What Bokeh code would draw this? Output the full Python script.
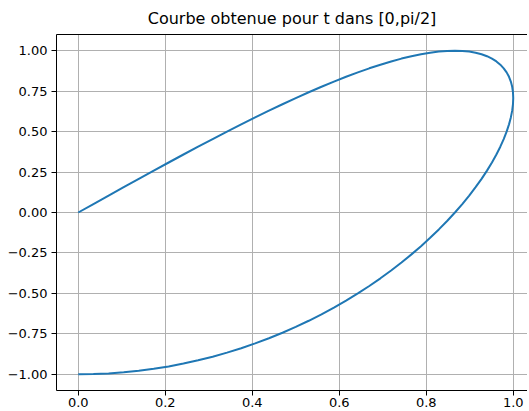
from bokeh.plotting import figure
from bokeh.models import Range1d, LinearAxis, FixedTicker, CustomJSTickFormatter
from bokeh.embed import file_html
from bokeh.resources import INLINE

title_text = "Courbe obtenue pour t dans [0,pi/2]"

# points (t from 0 to pi/2)
x_up = [0.0, 0.0349, 0.0698, 0.1045, 0.1392, 0.1736, 0.2079, 0.2419, 0.2756, 0.3090,
        0.3420, 0.3746, 0.4067, 0.4384, 0.4695, 0.5, 0.5299, 0.5592, 0.5878, 0.6157,
        0.6428, 0.6691, 0.6947, 0.7193, 0.7431, 0.7660, 0.7880, 0.8090, 0.8290, 0.8480,
        0.8660, 0.8829, 0.8988, 0.9135, 0.9272, 0.9397, 0.9511, 0.9613, 0.9703, 0.9781,
        0.9848, 0.9903, 0.9945, 0.9976, 0.9994, 1.0]
x_down = [0.9994, 0.9976, 0.9945, 0.9903, 0.9848, 0.9781, 0.9703, 0.9613, 0.9511, 0.9397,
          0.9272, 0.9135, 0.8988, 0.8829, 0.8660, 0.8480, 0.8290, 0.8090, 0.7880, 0.7660,
          0.7431, 0.7193, 0.6947, 0.6691, 0.6428, 0.6157, 0.5878, 0.5592, 0.5299, 0.5,
          0.4695, 0.4384, 0.4067, 0.3746, 0.3420, 0.3090, 0.2756, 0.2419, 0.2079, 0.1736,
          0.1392, 0.1045, 0.0698, 0.0349, 0.0]
y_rise = [0.0, 0.0523, 0.1045, 0.1564, 0.2079, 0.2588, 0.3090, 0.3584, 0.4067, 0.4540,
          0.5, 0.5446, 0.5878, 0.6293, 0.6691, 0.7071, 0.7431, 0.7771, 0.8090, 0.8387,
          0.8660, 0.8910, 0.9135, 0.9336, 0.9511, 0.9659, 0.9781, 0.9877, 0.9945, 0.9986, 1.0]
y_fall = [0.9986, 0.9945, 0.9877, 0.9781, 0.9659, 0.9511, 0.9336, 0.9135, 0.8910, 0.8660,
          0.8387, 0.8090, 0.7771, 0.7431, 0.7071, 0.6691, 0.6293, 0.5878, 0.5446, 0.5,
          0.4540, 0.4067, 0.3584, 0.3090, 0.2588, 0.2079, 0.1564, 0.1045, 0.0523, 0.0]
y_neg = [-0.0523, -0.1045, -0.1564, -0.2079, -0.2588, -0.3090, -0.3584, -0.4067, -0.4540, -0.5,
         -0.5446, -0.5878, -0.6293, -0.6691, -0.7071, -0.7431, -0.7771, -0.8090, -0.8387, -0.8660,
         -0.8910, -0.9135, -0.9336, -0.9511, -0.9659, -0.9781, -0.9877, -0.9945, -0.9986, -1.0]

xs = x_up + x_down
ys = y_rise + y_fall + y_neg

x_ticks = [0.0, 0.2, 0.4, 0.6, 0.8, 1.0]
y_ticks = [-1.0, -0.75, -0.5, -0.25, 0.0, 0.25, 0.5, 0.75, 1.0]

FONT = "DejaVu Sans"

p = figure(width=527, height=409, output_backend="svg", toolbar_location=None,
           x_range=Range1d(-0.05, 1.0328), y_range=Range1d(-1.1, 1.1),
           min_border_left=56, min_border_right=0, min_border_top=10, min_border_bottom=0)
p.outline_line_color = None

p.title.text = title_text
p.title.align = "center"
p.title.text_font = FONT
p.title.text_font_size = "16px"
p.title.text_font_style = "normal"
p.title.text_color = "black"
p.title.standoff = 13

p.line(xs, ys, line_color="#1f77b4", line_width=2)

xax = p.below[0]
yax = p.left[0]

# top spine
top = LinearAxis(ticker=FixedTicker(ticks=[]), axis_line_color="black", axis_line_width=1,
                 major_tick_out=0, major_tick_in=0, minor_tick_out=0, minor_tick_in=0,
                 major_label_text_font_size="0px", major_label_standoff=0)
p.add_layout(top, "above")

xax.ticker = FixedTicker(ticks=x_ticks)
yax.ticker = FixedTicker(ticks=y_ticks)
xax.formatter = CustomJSTickFormatter(code="return tick.toFixed(1);")
yax.formatter = CustomJSTickFormatter(code="return tick.toFixed(2).replace('-', '\u2212');")

for ax in [xax, yax]:
    ax.axis_line_color = "black"
    ax.axis_line_width = 1
    ax.major_tick_out = 5
    ax.major_tick_in = 0
    ax.minor_tick_out = 0
    ax.minor_tick_in = 0
    ax.major_tick_line_color = "black"
    ax.major_label_text_font = FONT
    ax.major_label_text_font_size = "13px"
    ax.major_label_text_color = "black"
    ax.major_label_standoff = 4
xax.major_label_standoff = 2

p.xgrid.ticker = FixedTicker(ticks=x_ticks)
p.ygrid.ticker = FixedTicker(ticks=y_ticks)
p.grid.grid_line_color = "#b0b0b0"
p.grid.grid_line_width = 1

open("out.html", "w").write(file_html(p, INLINE))
